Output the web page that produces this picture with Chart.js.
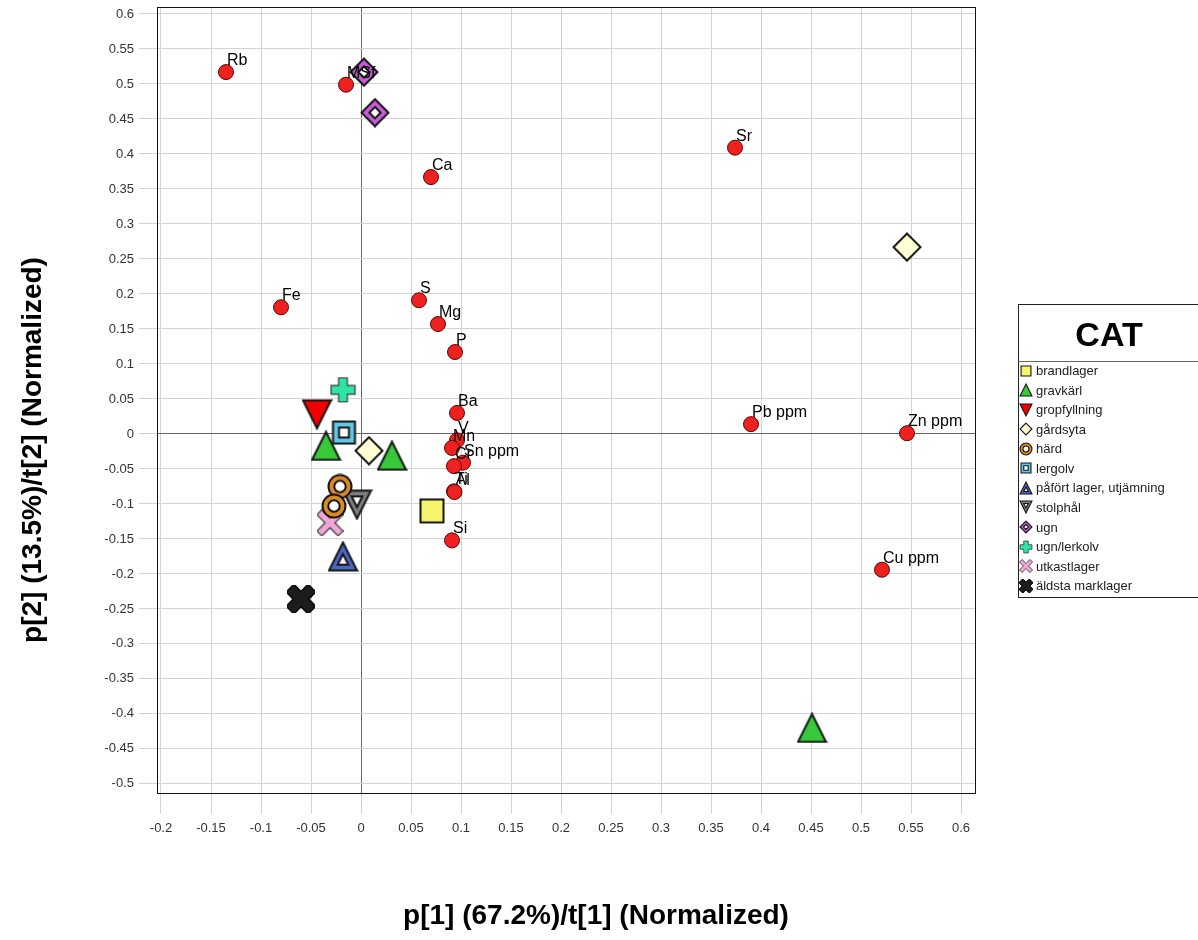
<!DOCTYPE html>
<html>
<head>
<meta charset="utf-8">
<script src="https://cdn.jsdelivr.net/npm/chart.js@4.4.1/dist/chart.umd.min.js"></script>
<style>
  html, body { margin: 0; padding: 0; background: #fff; }
  #wrap { width: 1198px; height: 940px; }
</style>
</head>
<body>
<div id="wrap"><canvas id="myChart" width="1198" height="940"></canvas></div>
<script>
// loadings p[1]/p[2] (red dots with labels)
const varNames = ['Rb', 'MSf', 'Sr', 'Ca', 'Fe', 'S', 'Mg', 'P', 'Ba', 'V', 'Mn', 'Sn ppm', 'Cr', 'Ti', 'Al', 'Si', 'Pb ppm', 'Zn ppm', 'Cu ppm'];
const varX = [-0.135, -0.015, 0.374, 0.070, -0.080, 0.058, 0.077, 0.094, 0.096, 0.096, 0.091, 0.102, 0.093, 0.093, 0.0935, 0.091, 0.390, 0.546, 0.521];
const varY = [0.517, 0.499, 0.409, 0.367, 0.181, 0.191, 0.157, 0.117, 0.030, -0.009, -0.020, -0.041, -0.046, -0.082, -0.083, -0.152, 0.014, 0.001, -0.194];

// scores t[1]/t[2] per CAT class
const catNames = ['brandlager', 'gravkärl', 'gropfyllning', 'gårdsyta', 'härd', 'lergolv',
  'påfört lager, utjämning', 'stolphål', 'ugn', 'ugn/lerkolv', 'utkastlager', 'äldsta marklager'];
const tBrandlager = [[0.071, -0.110]];
const tGravkarl = [[-0.035, -0.017], [0.031, -0.031], [0.451, -0.420]];
const tGropfyllning = [[-0.044, 0.028]];
const tGardsyta = [[0.008, -0.024], [0.546, 0.267]];
const tHard = [[-0.021, -0.075], [-0.027, -0.103]];
const tLergolv = [[-0.017, 0.002]];
const tPafort = [[-0.018, -0.175]];
const tStolphal = [[-0.004, -0.101]];
const tUgn = [[0.003, 0.517], [0.014, 0.459]];
const tUgnLerkolv = [[-0.018, 0.063]];
const tUtkastlager = [[-0.031, -0.127]];
const tAldsta = [[-0.060, -0.236]];
const catSeries = [tBrandlager, tGravkarl, tGropfyllning, tGardsyta, tHard, tLergolv,
  tPafort, tStolphal, tUgn, tUgnLerkolv, tUtkastlager, tAldsta];

// tick labels
const xTicks = [-0.2, -0.15, -0.1, -0.05, 0, 0.05, 0.1, 0.15, 0.2, 0.25, 0.3, 0.35, 0.4, 0.45, 0.5, 0.55, 0.6];
const yTicks = [-0.5, -0.45, -0.4, -0.35, -0.3, -0.25, -0.2, -0.15, -0.1, -0.05, 0, 0.05, 0.1, 0.15, 0.2, 0.25, 0.3, 0.35, 0.4, 0.45, 0.5, 0.55, 0.6];

// marker look per class: shape, fill colour
const catShapes = ['square', 'tri', 'triDown', 'diamond', 'ring', 'squareHole', 'triHole', 'triDownHole', 'diamondHole', 'plus', 'xThin', 'xBold'];
const catColors = ['#f5f56c', '#38c93a', '#f20000', '#ffffd6', '#dc8a24', '#62c8e8', '#4a66c2', '#7f7f7f', '#c55ed6', '#2ee6a4', '#f2a6d8', '#1c1c1c'];

// draws one marker into its own small canvas (used as pointStyle)
function makeMarker(shape, fill, size) {
  const c = document.createElement('canvas');
  c.width = size; c.height = size;
  const g = c.getContext('2d');
  const lw = size > 18 ? 2 : 1.1;
  const e = lw / 2 + 0.5;
  const m = size / 2;
  g.lineWidth = lw;
  g.strokeStyle = '#151515';
  g.lineJoin = 'miter';
  const poly = (pts, f) => {
    g.beginPath();
    pts.forEach((p, i) => i ? g.lineTo(p[0], p[1]) : g.moveTo(p[0], p[1]));
    g.closePath();
    g.fillStyle = f; g.fill(); g.stroke();
  };
  const scaleAbout = (pts, cx, cy, k) => pts.map(p => [cx + (p[0] - cx) * k, cy + (p[1] - cy) * k]);
  const up = [[m, e], [size - e, size - e], [e, size - e]];
  const down = [[e, e], [size - e, e], [m, size - e]];
  const dia = [[m, e], [size - e, m], [m, size - e], [e, m]];
  const sq = [[e + 1, e + 1], [size - e - 1, e + 1], [size - e - 1, size - e - 1], [e + 1, size - e - 1]];
  if (shape === 'square') poly(sq, fill);
  if (shape === 'squareHole') { poly(sq, fill); poly(scaleAbout(sq, m, m, 0.45), '#fff'); }
  if (shape === 'tri') poly(up, fill);
  if (shape === 'triHole') { poly(up, fill); poly(scaleAbout(up, m, (e + 2 * (size - e)) / 3, 0.38), '#fff'); }
  if (shape === 'triDown') poly(down, fill);
  if (shape === 'triDownHole') { poly(down, fill); poly(scaleAbout(down, m, (2 * e + size - e) / 3, 0.38), '#fff'); }
  if (shape === 'diamond') poly(dia, fill);
  if (shape === 'diamondHole') { poly(dia, fill); poly(scaleAbout(dia, m, m, 0.42), '#fff'); }
  if (shape === 'ring') {
    g.beginPath(); g.arc(m, m, m - e, 0, Math.PI * 2); g.fillStyle = fill; g.fill(); g.stroke();
    g.beginPath(); g.arc(m, m, (m - e) * 0.5, 0, Math.PI * 2); g.fillStyle = '#fff'; g.fill(); g.stroke();
  }
  if (shape === 'plus' || shape === 'xThin' || shape === 'xBold') {
    const w = (shape === 'xBold' ? 0.2 : shape === 'xThin' ? 0.13 : 0.16) * size;
    const L = shape === 'plus' ? m - e : (m - e) * 1.25;
    const pts = [[-w, -L], [w, -L], [w, -w], [L, -w], [L, w], [w, w], [w, L], [-w, L], [-w, w], [-L, w], [-L, -w], [-w, -w]];
    g.save(); g.translate(m, m);
    if (shape !== 'plus') g.rotate(Math.PI / 4);
    g.lineWidth = size > 18 ? 1.2 : 0.8;
    g.strokeStyle = shape === 'xBold' ? '#000' : '#333';
    poly(pts, fill);
    g.restore();
  }
  return c;
}

const catSizes = [28, 31, 31, 30, 26, 27, 31, 31, 30, 27, 27, 28];
const bigMarkers = catShapes.map((s, i) => makeMarker(s, catColors[i], catSizes[i]));
const smallMarkers = catShapes.map((s, i) => makeMarker(s, catColors[i], 14));

const datasets = [];
catNames.forEach((name, i) => {
  datasets.push({
    label: name,
    data: catSeries[i].map(p => ({ x: p[0], y: p[1] })),
    pointStyle: bigMarkers[i],
    pointRadius: 14,
    order: 2
  });
});
datasets.push({
  label: 'loadings',
  data: varX.map((x, i) => ({ x: x, y: varY[i] })),
  pointStyle: 'circle',
  pointRadius: 7.5,
  backgroundColor: '#ee2121',
  borderColor: '#6a0000',
  borderWidth: 1,
  order: 1
});

const fontFam = "'Liberation Sans', Arial, sans-serif";

// frame, point labels, axis titles and CAT legend
const decorPlugin = {
  id: 'decor',
  beforeDatasetsDraw(chart) {
    const { ctx, chartArea: a } = chart;
    ctx.save();
    ctx.strokeStyle = '#111';
    ctx.lineWidth = 1;
    ctx.strokeRect(Math.round(a.left) + 0.5, Math.round(a.top) + 0.5, Math.round(a.right - a.left), Math.round(a.bottom - a.top));
    ctx.restore();
  },
  afterDatasetsDraw(chart) {
    const { ctx } = chart;
    const meta = chart.getDatasetMeta(chart.data.datasets.length - 1);
    ctx.save();
    ctx.font = '16px ' + fontFam;
    ctx.fillStyle = '#000';
    ctx.textAlign = 'left';
    ctx.textBaseline = 'alphabetic';
    meta.data.forEach((pt, i) => {
      ctx.fillText(varNames[i], pt.x + 1, pt.y - 7);
    });
    ctx.restore();
  },
  afterDraw(chart) {
    const { ctx } = chart;
    ctx.save();
    // axis titles
    ctx.fillStyle = '#000';
    ctx.font = 'bold 28px ' + fontFam;
    ctx.textAlign = 'center';
    ctx.textBaseline = 'middle';
    ctx.fillText('p[1] (67.2%)/t[1] (Normalized)', 596, 916);
    ctx.translate(33, 450);
    ctx.rotate(-Math.PI / 2);
    ctx.fillText('p[2] (13.5%)/t[2] (Normalized)', 0, 0);
    ctx.restore();

    // legend box
    ctx.save();
    ctx.strokeStyle = '#222';
    ctx.lineWidth = 1;
    ctx.strokeRect(1018.5, 304.5, 200, 293);
    ctx.strokeStyle = '#666';
    ctx.beginPath(); ctx.moveTo(1018, 361.5); ctx.lineTo(1198, 361.5); ctx.stroke();
    ctx.fillStyle = '#000';
    ctx.font = 'bold 34px ' + fontFam;
    ctx.textAlign = 'center';
    ctx.textBaseline = 'middle';
    ctx.fillText('CAT', 1109, 337);
    ctx.font = '13px ' + fontFam;
    ctx.textAlign = 'left';
    ctx.fillStyle = '#222';
    catNames.forEach((name, i) => {
      const y = 370.5 + i * 19.57;
      ctx.drawImage(smallMarkers[i], 1026 - 7, Math.round(y - 7));
      ctx.fillText(name, 1036, y + 1);
    });
    ctx.restore();
  }
};

const gridColor = '#d3d3d3';
const tickFmt = v => String(Number(v.toFixed(2)));

const ctx = document.getElementById('myChart').getContext('2d');
const myChart = new Chart(ctx, {
  type: 'scatter',
  data: { datasets: datasets },
  options: {
    responsive: false,
    animation: false,
    layout: { autoPadding: false, padding: { top: 7, right: 223, left: 0, bottom: 0 } },
    plugins: {
      legend: { display: false },
      tooltip: { enabled: false }
    },
    scales: {
      x: {
        type: 'linear',
        min: -0.204,
        max: 0.614,
        afterBuildTicks: s => { s.ticks = xTicks.map(v => ({ value: v })); },
        afterFit: s => { s.height = 147; s.paddingLeft = 0; s.paddingRight = 0; },
        border: { display: false },
        grid: {
          color: c => c.tick && c.tick.value === 0 ? '#666' : gridColor,
          lineWidth: 1,
          tickColor: gridColor,
          tickLength: 21
        },
        ticks: {
          autoSkip: false,
          maxRotation: 0,
          padding: 7,
          color: '#333',
          font: { family: fontFam, size: 13 },
          callback: tickFmt
        }
      },
      y: {
        type: 'linear',
        min: -0.513,
        max: 0.61,
        afterBuildTicks: s => { s.ticks = yTicks.map(v => ({ value: v })); },
        afterFit: s => { s.width = 157; s.paddingTop = 0; s.paddingBottom = 0; },
        border: { display: false },
        grid: {
          color: c => c.tick && c.tick.value === 0 ? '#666' : gridColor,
          lineWidth: 1,
          tickColor: gridColor,
          tickLength: 18
        },
        ticks: {
          autoSkip: false,
          padding: 5,
          color: '#333',
          font: { family: fontFam, size: 13 },
          callback: tickFmt
        }
      }
    }
  },
  plugins: [decorPlugin]
});
</script>
</body>
</html>
